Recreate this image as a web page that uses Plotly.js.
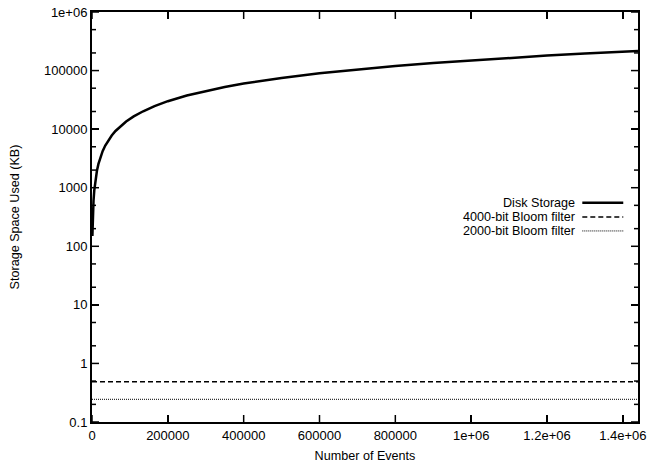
<!DOCTYPE html>
<html>
<head>
<meta charset="utf-8">
<script src="https://cdn.plot.ly/plotly-3.0.1.min.js"></script>
<style>html,body{margin:0;padding:0;background:#fff;}#chart{width:648px;height:466px;}</style>
</head>
<body>
<div id="chart"></div>
<script>
// ---- data ----
const events = [1000, 2000, 3000, 4000, 6000, 8000, 10000, 13000, 17000, 22000, 28000, 35000, 43000, 52000, 62000, 75000, 90000, 110000, 135000, 165000, 200000, 250000, 300000, 350000, 400000, 500000, 600000, 700000, 800000, 900000, 1000000, 1100000, 1200000, 1300000, 1400000, 1440000];
const diskKB = [150, 300, 450, 600, 900, 1200, 1500, 1950, 2550, 3300, 4200, 5250, 6450, 7800, 9300, 11200, 13500, 16500, 20200, 24700, 30000, 37500, 45000, 52500, 60000, 75000, 90000, 105000, 120000, 135000, 150000, 165000, 180000, 195000, 210000, 216000];
const bloomX = [0, 1440000];
const bloom4000KB = [0.488, 0.488];
const bloom2000KB = [0.244, 0.244];
const seriesNames = ["Disk Storage", "4000-bit Bloom filter", "2000-bit Bloom filter"];
const xTickVals = [0, 200000, 400000, 600000, 800000, 1000000, 1200000, 1400000];
const xTickText = ["0", "200000", "400000", "600000", "800000", "1e+06", "1.2e+06", "1.4e+06"];
const yTickVals = [0.1, 1, 10, 100, 1000, 10000, 100000, 1000000];
const yTickText = ["0.1", "1", "10", "100", "1000", "10000", "100000", "1e+06"];
const yMinorVals = [0.2, 0.5, 2, 5, 20, 50, 200, 500, 2000, 5000, 20000, 50000, 200000, 500000];

const tickFont = {family: "Liberation Sans, Arial, sans-serif", size: 13, color: "#000"};
const textFont = {family: "Liberation Sans, Arial, sans-serif", size: 12.6, color: "#000"};
const styles = [
  {color: "#000", width: 2.5, dash: "solid"},
  {color: "#000", width: 1.5, dash: "5px,3px"},
  {color: "#000", width: 1, dash: "1px,1px"}
];

const traces = [
  {x: events, y: diskKB, name: seriesNames[0], mode: "lines", line: styles[0]},
  {x: bloomX, y: bloom4000KB, name: seriesNames[1], mode: "lines", line: styles[1]},
  {x: bloomX, y: bloom2000KB, name: seriesNames[2], mode: "lines", line: styles[2]}
];

// custom legend: text right-aligned, sample line on the right (gnuplot style)
const legY = [0.5345, 0.500, 0.466];
const annotations = seriesNames.map((n, i) => ({
  xref: "paper", yref: "paper", x: 0.888, y: legY[i], text: n, showarrow: false,
  xanchor: "right", yanchor: "middle", font: textFont
}));
const shapes = seriesNames.map((n, i) => ({
  type: "line", xref: "paper", yref: "paper", x0: 0.898, x1: 0.973, y0: legY[i], y1: legY[i],
  line: styles[i]
}));

// gnuplot-style inward tick marks on all four sides, placed through the axes
const plotW = 648 - 92 - 10, plotH = 466 - 12 - 44;
const tickLine = {color: "#000", width: 1.5};
xTickVals.forEach(v => {
  [[0, 7 / plotH], [1, 1 - 7 / plotH]].forEach(([a, b]) => shapes.push({
    type: "line", xref: "x", yref: "paper", x0: v, x1: v, y0: a, y1: b, line: tickLine, layer: "above"
  }));
});
function yTick(v, len) {
  [[0, len / plotW], [1, 1 - len / plotW]].forEach(([a, b]) => shapes.push({
    type: "line", xref: "paper", yref: "y", x0: a, x1: b, y0: v, y1: v, line: tickLine, layer: "above"
  }));
}
yTickVals.forEach(v => yTick(v, 7));
yMinorVals.forEach(v => yTick(v, 4));

const layout = {
  width: 648, height: 466,
  margin: {l: 92, r: 10, t: 12, b: 44},
  paper_bgcolor: "#fff", plot_bgcolor: "#fff",
  font: textFont,
  showlegend: false,
  xaxis: {
    range: [0, 1440000], tickmode: "array", tickvals: xTickVals, ticktext: xTickText,
    ticks: "inside", ticklen: 7, tickwidth: 1.5, tickcolor: "#000",
    showline: true, linewidth: 2, linecolor: "#000", mirror: "ticks",
    showgrid: false, zeroline: false, tickfont: tickFont,
    title: {text: "Number of Events", font: textFont, standoff: 10}
  },
  yaxis: {
    type: "log", range: [-1, 6], tickmode: "array", tickvals: yTickVals, ticktext: yTickText,
    ticks: "inside", ticklen: 7, tickwidth: 1.5, tickcolor: "#000",
    showline: true, linewidth: 2, linecolor: "#000", mirror: "ticks",
    showgrid: false, zeroline: false, tickfont: tickFont,
    title: {text: "Storage Space Used (KB)", font: textFont, standoff: 22}
  },
  annotations: annotations,
  shapes: shapes
};

Plotly.newPlot("chart", traces, layout, {staticPlot: true, displayModeBar: false});
</script>
</body>
</html>
